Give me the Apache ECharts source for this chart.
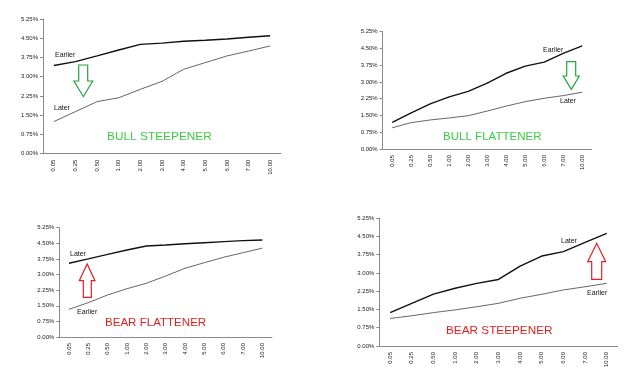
<!DOCTYPE html>
<html><head><meta charset="utf-8">
<script src="https://cdn.jsdelivr.net/npm/echarts@6/dist/echarts.min.js"></script>
<style>html,body{margin:0;padding:0;background:#fff}#c{width:640px;height:387px}</style>
</head><body><div id="c"></div>
<script>
const categories = ['0.05','0.25','0.50','1.00','2.00','3.00','4.00','5.00','6.00','7.00','10.00'];
const yMin = 0, yMax = 5.25, yStep = 0.75;

const bullSteepEarlier = [3.44,3.59,3.81,4.04,4.26,4.31,4.38,4.42,4.47,4.54,4.60];
const bullSteepLater   = [1.25,1.64,2.03,2.18,2.51,2.82,3.29,3.55,3.81,4.00,4.20];
const bullFlatEarlier  = [1.19,1.62,2.02,2.33,2.58,2.95,3.39,3.71,3.89,4.28,4.62];
const bullFlatLater    = [0.95,1.18,1.30,1.39,1.49,1.70,1.92,2.12,2.27,2.39,2.54];
const bearFlatLater    = [3.54,3.75,3.97,4.18,4.37,4.42,4.48,4.53,4.58,4.63,4.66];
const bearFlatEarlier  = [1.33,1.65,2.02,2.32,2.58,2.93,3.30,3.57,3.83,4.05,4.27];
const bearSteepLater   = [1.37,1.75,2.13,2.37,2.57,2.73,3.28,3.69,3.87,4.25,4.62];
const bearSteepEarlier = [1.13,1.24,1.37,1.48,1.61,1.75,1.96,2.12,2.30,2.43,2.57];

const panelTitles = ['BULL STEEPENER','BULL FLATTENER','BEAR FLATTENER','BEAR STEEPENER'];

const FONT = 'Liberation Sans, Arial, sans-serif';
const grids = [
  {left:43, top:19, width:238, height:134.7},
  {left:382.7, top:31.7, width:209, height:117.3},
  {left:59.3, top:227.7, width:212.7, height:109.3},
  {left:379.3, top:218, width:238.3, height:128}
];
const panels = [
  {top: bullSteepEarlier, topName:'Earlier', bottom: bullSteepLater, bottomName:'Later'},
  {top: bullFlatEarlier, topName:'Earlier', bottom: bullFlatLater, bottomName:'Later'},
  {top: bearFlatLater, topName:'Later', bottom: bearFlatEarlier, bottomName:'Earlier'},
  {top: bearSteepLater, topName:'Later', bottom: bearSteepEarlier, bottomName:'Earlier'}
];

const axisColor = '#8a8a8a';
const xAxis = grids.map((g,i)=>({
  type:'category', gridIndex:i, data:categories, boundaryGap:true,
  axisLine:{lineStyle:{color:axisColor,width:1}},
  axisTick:{length:3,lineStyle:{color:axisColor}},
  axisLabel:{rotate:90, fontSize:6, color:'#222', margin:6, fontFamily:FONT}
}));
const yAxis = grids.map((g,i)=>({
  type:'value', gridIndex:i, min:yMin, max:yMax, interval:yStep,
  axisLine:{show:true, lineStyle:{color:axisColor,width:1}},
  axisTick:{show:true, length:3, lineStyle:{color:axisColor}},
  splitLine:{show:false},
  axisLabel:{fontSize:6, color:'#222', margin:5, fontFamily:FONT, formatter:v=>v.toFixed(2)+'%'}
}));
const series = [];
panels.forEach((p,i)=>{
  series.push({type:'line', name:p.topName, xAxisIndex:i, yAxisIndex:i, data:p.top, symbol:'none',
    lineStyle:{color:'#111', width:1.4}, animation:false});
  series.push({type:'line', name:p.bottomName, xAxisIndex:i, yAxisIndex:i, data:p.bottom, symbol:'none',
    lineStyle:{color:'#555', width:0.9}, animation:false});
});

function txt(x,y,s,size,color){
  return {type:'text', left:x, top:y, style:{text:s, fontSize:size, fill:color, fontFamily:FONT}};
}
function title(x,y,s,color,sx){
  return {type:'text', x:x, y:y, scaleX:sx, originX:0, originY:0,
    style:{text:s, fontSize:10.5, fill:color, fontFamily:FONT, verticalAlign:'top', align:'left'}};
}
function downArrow(x0,x1,hx0,hx1,yTop,yMid,yTip,color){
  const cx=(hx0+hx1)/2;
  return {type:'polygon', shape:{points:[[x0,yTop],[x1,yTop],[x1,yMid],[hx1,yMid],[cx,yTip],[hx0,yMid],[x0,yMid]]},
    style:{fill:'none', stroke:color, lineWidth:1.2}};
}
function upArrow(x0,x1,hx0,hx1,yBot,yMid,yTip,color){
  const cx=(hx0+hx1)/2;
  return {type:'polygon', shape:{points:[[x0,yBot],[x1,yBot],[x1,yMid],[hx1,yMid],[cx,yTip],[hx0,yMid],[x0,yMid]]},
    style:{fill:'none', stroke:color, lineWidth:1.2}};
}
const green='#22a33e', greenTxt='#3ccc45', red='#e32020';
const graphic = [
  txt(55,52,panels[0].topName,7,'#111'),
  txt(54,105,panels[0].bottomName,7,'#111'),
  downArrow(78.7,87.7,74,92.7,65,81,96.7,green),
  title(107,132,panelTitles[0],greenTxt,1.13),
  txt(543,47,panels[1].topName,7,'#111'),
  txt(560,98,panels[1].bottomName,7,'#111'),
  downArrow(566.7,575.7,563.3,579.3,61.7,76,89.3,green),
  title(443,132,panelTitles[1],greenTxt,1.1),
  txt(70,251,panels[2].topName,7,'#111'),
  txt(77,309,panels[2].bottomName,7,'#111'),
  upArrow(83.3,91.3,79.3,95,297.3,280.7,264,red),
  title(105,318,panelTitles[2],red,1.1),
  txt(561,238,panels[3].topName,7,'#111'),
  txt(587,290,panels[3].bottomName,7,'#111'),
  upArrow(591.7,601.7,587.7,605.7,279.3,261.7,243.3,red),
  title(446,326,panelTitles[3],red,1.12)
];

const chart = echarts.init(document.getElementById('c'));
chart.setOption({animation:false, grid:grids, xAxis, yAxis, series, graphic});
</script></body></html>
